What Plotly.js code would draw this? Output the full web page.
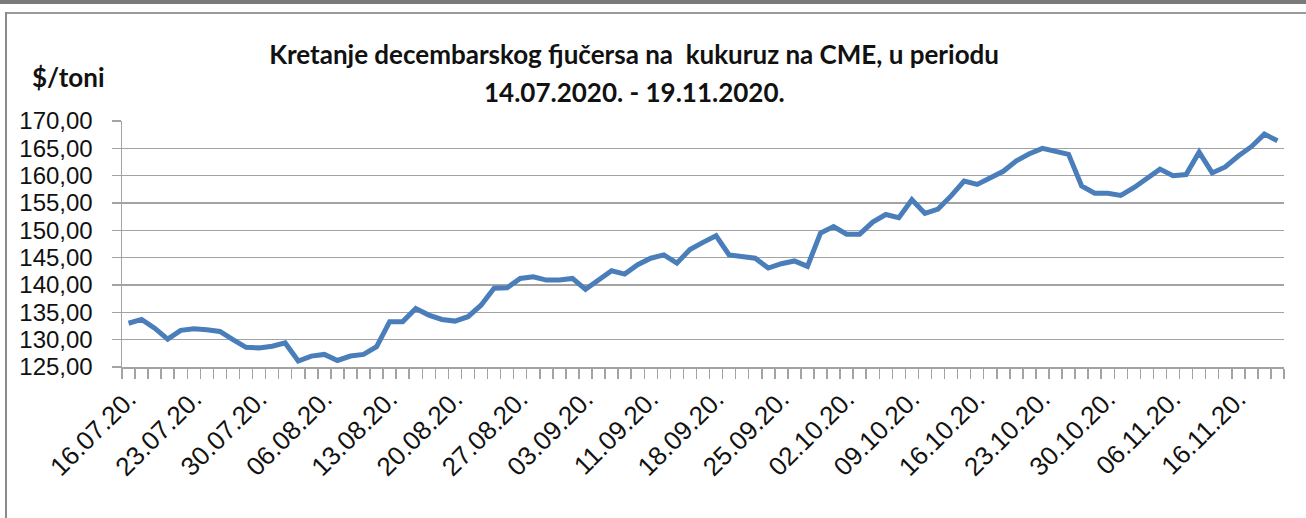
<!DOCTYPE html>
<html>
<head>
<meta charset="utf-8">
<script src="https://cdn.plot.ly/plotly-3.0.1.min.js"></script>
<style>
  html, body { margin: 0; padding: 0; background: #fff; }
  #wrap { position: relative; width: 1306px; height: 518px; overflow: hidden; }
  #chart { position: absolute; left: 0; top: 0; width: 1306px; height: 518px; }
  .bar-top { position: absolute; left: 0; top: 0; width: 1306px; height: 4px; background: #7a7a7a; }
  .frame-top { position: absolute; left: 5px; top: 12px; width: 1301px; height: 2px; background: #9a9a9a; }
  .frame-left { position: absolute; left: 5px; top: 12px; width: 2px; height: 506px; background: #8a8a8a; }
</style>
</head>
<body>
<div id="wrap">
  <div id="chart"></div>
  <div class="bar-top"></div>
  <div class="frame-top"></div>
  <div class="frame-left"></div>
</div>
<script>
// Trading dates (categories)
const dates = [
  "16.07.20.","17.07.20.","20.07.20.","21.07.20.","22.07.20.","23.07.20.","24.07.20.","27.07.20.","28.07.20.","29.07.20.","30.07.20.","31.07.20.",
  "03.08.20.","04.08.20.","05.08.20.","06.08.20.","07.08.20.","10.08.20.","11.08.20.","12.08.20.","13.08.20.","14.08.20.","17.08.20.","18.08.20.","19.08.20.","20.08.20.","21.08.20.","24.08.20.","25.08.20.","26.08.20.","27.08.20.","28.08.20.","31.08.20.",
  "01.09.20.","02.09.20.","03.09.20.","04.09.20.","08.09.20.","09.09.20.","10.09.20.","11.09.20.","14.09.20.","15.09.20.","16.09.20.","17.09.20.","18.09.20.","21.09.20.","22.09.20.","23.09.20.","24.09.20.","25.09.20.","28.09.20.","29.09.20.","30.09.20.",
  "01.10.20.","02.10.20.","05.10.20.","06.10.20.","07.10.20.","08.10.20.","09.10.20.","12.10.20.","13.10.20.","14.10.20.","15.10.20.","16.10.20.","19.10.20.","20.10.20.","21.10.20.","22.10.20.","23.10.20.","26.10.20.","27.10.20.","28.10.20.","29.10.20.","30.10.20.",
  "02.11.20.","03.11.20.","04.11.20.","05.11.20.","06.11.20.","09.11.20.","10.11.20.","12.11.20.","13.11.20.","16.11.20.","17.11.20.","18.11.20.","19.11.20."
];

// December corn futures price, $/toni
const prices = [
  133.0,133.7,132.1,130.1,131.7,132.0,131.8,131.5,130.0,128.6,128.5,128.8,
  129.4,126.1,127.0,127.3,126.2,127.0,127.3,128.7,133.3,133.3,135.7,134.5,133.7,133.4,134.2,136.3,139.4,139.5,141.2,141.5,140.9,
  140.9,141.2,139.2,140.9,142.6,142.0,143.7,144.9,145.5,144.0,146.5,147.8,149.0,145.5,145.2,144.9,143.1,143.9,144.4,143.4,149.5,
  150.7,149.3,149.3,151.5,152.9,152.3,155.6,153.1,153.9,156.3,159.0,158.4,159.5,160.8,162.7,164.0,165.0,164.5,163.9,158.1,156.8,156.8,
  156.4,157.8,159.6,161.2,160.0,160.2,164.3,160.5,161.6,163.6,165.3,167.6,166.4
];

const titleLine1 = "Kretanje decembarskog fjučersa na&nbsp; kukuruz na CME, u periodu";
const titleLine2 = "14.07.2020. - 19.11.2020.";
const unitLabel = "$/toni";
const labelStep = 5;
const tickText = dates.map((d, i) => (i % labelStep === 0 ? d : ""));

const gridColor = "#a3a3a3";
const yTickFont = { family: "Liberation Sans, Arial, sans-serif", size: 24, color: "#111" };
const xTickFont = { family: "Liberation Sans, Arial, sans-serif", size: 26, color: "#111" };
const boldFont = { family: "Lato, Liberation Sans, sans-serif", size: 26, color: "#111", weight: "bold" };

const trace = {
  type: "scatter",
  mode: "lines",
  x: dates,
  y: prices,
  line: { color: "#4a7ebb", width: 5 },
  hoverinfo: "x+y"
};

const layout = {
  width: 1306,
  height: 518,
  margin: { l: 122, r: 22, t: 121, b: 151 },
  paper_bgcolor: "rgba(0,0,0,0)",
  plot_bgcolor: "#fff",
  separators: ", ",
  showlegend: false,
  title: {
    text: titleLine1,
    font: boldFont,
    xref: "container", x: 0.4855, xanchor: "center",
    yref: "container", y: 1 - 55 / 518, yanchor: "middle"
  },
  xaxis: {
    type: "category",
    range: [-0.5, dates.length - 0.5],
    tickmode: "array",
    tickvals: dates,
    ticktext: tickText,
    tickson: "boundaries",
    ticks: "outside",
    ticklen: 10,
    tickwidth: 1.5,
    tickcolor: gridColor,
    tickangle: -45,
    tickfont: xTickFont,
    ticklabelstandoff: 5,
    showgrid: false,
    showline: true,
    linecolor: gridColor,
    linewidth: 1.5,
    zeroline: false
  },
  yaxis: {
    range: [125, 170],
    dtick: 5,
    tick0: 125,
    tickformat: ".2f",
    ticks: "outside",
    ticklen: 9,
    tickwidth: 1.5,
    tickcolor: gridColor,
    tickfont: yTickFont,
    ticklabelstandoff: 14,
    showgrid: true,
    gridcolor: gridColor,
    gridwidth: 1.5,
    showline: true,
    linecolor: gridColor,
    linewidth: 1.5,
    zeroline: false
  },
  annotations: [
    {
      text: titleLine2,
      font: boldFont,
      showarrow: false,
      xref: "paper", x: (634 - 122) / 1162, xanchor: "center",
      yref: "paper", y: (367 - 92) / 246, yanchor: "middle"
    },
    {
      text: unitLabel,
      font: boldFont,
      showarrow: false,
      xref: "paper", x: (68 - 122) / 1162, xanchor: "center",
      yref: "paper", y: (367 - 77) / 246, yanchor: "middle"
    }
  ]
};

Plotly.newPlot("chart", [trace], layout, { displayModeBar: false, staticPlot: true });
</script>
</body>
</html>
